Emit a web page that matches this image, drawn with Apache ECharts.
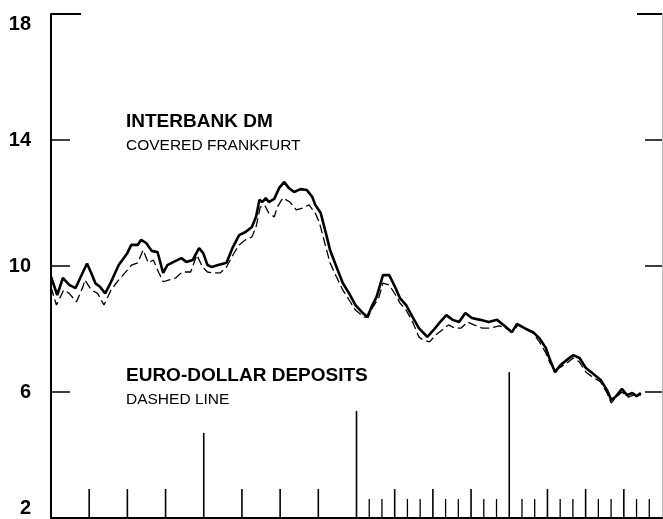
<!DOCTYPE html>
<html>
<head>
<meta charset="utf-8">
<script src="https://cdn.jsdelivr.net/npm/echarts@6/dist/echarts.min.js"></script>
<style>
	html, body { margin: 0; padding: 0; background: #fff; }
	#chart { width: 663px; height: 519px; }
</style>
</head>
<body>
<div id="chart"></div>
<script>
	'use strict'

	// x in months from the start of the first year (4 years = 48 months), y in percent
	var interbankDM = [
		[0,9.66],[0.49,9.08],[0.93,9.62],[1.43,9.40],[1.93,9.30],[2.33,9.65],[2.83,10.08],[3.16,9.78],
		[3.49,9.45],[3.83,9.35],[4.26,9.13],[4.72,9.50],[5.32,10.03],[5.98,10.40],[6.31,10.67],[6.81,10.67],
		[7.08,10.83],[7.48,10.73],[7.91,10.48],[8.37,10.44],[8.81,9.78],[9.14,10.03],[9.64,10.13],[10.24,10.25],
		[10.63,10.13],[11.13,10.19],[11.63,10.57],[11.96,10.41],[12.29,10.03],[12.62,9.97],[13.13,10.03],[13.79,10.10],
		[14.29,10.60],[14.78,10.98],[15.28,11.08],[15.78,11.24],[16.11,11.56],[16.38,12.10],[16.61,12.03],[16.87,12.16],
		[17.11,12.03],[17.54,12.13],[17.93,12.48],[18.33,12.67],[18.67,12.48],[19.10,12.35],[19.60,12.44],[20.10,12.41],
		[20.53,12.19],[20.76,11.94],[21.19,11.68],[21.59,11.05],[21.92,10.51],[22.43,9.97],[22.92,9.46],[23.42,9.13],
		[23.92,8.76],[24.41,8.54],[24.85,8.38],[25.18,8.70],[25.58,9.02],[26.08,9.71],[26.57,9.71],[27.07,9.30],
		[27.41,8.98],[27.90,8.76],[28.41,8.38],[28.90,8.03],[29.56,7.75],[30.06,7.97],[30.56,8.22],[31.06,8.44],
		[31.56,8.29],[32.06,8.22],[32.55,8.51],[33.06,8.35],[33.72,8.29],[34.38,8.22],[35.04,8.29],[35.55,8.13],
		[36.21,7.90],[36.61,8.16],[37.20,8.03],[37.87,7.90],[38.37,7.71],[38.87,7.40],[39.20,7.02],[39.60,6.63],
		[40.03,6.86],[40.53,7.02],[41.03,7.17],[41.52,7.08],[42.02,6.76],[42.52,6.60],[43.18,6.38],[43.68,6.06],
		[44.01,5.75],[44.34,5.84],[44.85,6.10],[45.25,5.90],[45.67,5.97],[46.01,5.87],[46.34,5.97]
	];
	var euroDollar = [
		[0,9.33],[0.43,8.76],[1.00,9.24],[1.43,9.13],[2.00,8.86],[2.50,9.33],[2.66,9.56],[3.16,9.24],
		[3.66,9.13],[4.16,8.76],[4.72,9.24],[5.32,9.56],[5.81,9.78],[6.32,10.03],[6.81,10.10],[7.24,10.51],
		[7.64,10.10],[8.04,10.19],[8.48,9.78],[8.81,9.50],[9.30,9.56],[9.80,9.62],[10.30,9.81],[10.97,9.81],
		[11.46,10.35],[11.89,9.97],[12.29,9.81],[12.79,9.78],[13.29,9.78],[13.79,9.97],[14.29,10.35],[14.78,10.67],
		[15.28,10.83],[15.78,10.92],[16.11,11.24],[16.44,11.87],[16.78,11.94],[17.11,11.68],[17.54,11.56],[17.78,11.87],
		[18.21,12.16],[18.77,12.03],[19.27,11.78],[19.76,11.84],[20.27,11.94],[20.76,11.68],[21.09,11.37],[21.59,10.60],
		[21.92,10.10],[22.43,9.65],[22.92,9.24],[23.42,8.92],[23.92,8.60],[24.58,8.38],[24.92,8.38],[25.25,8.67],
		[25.74,8.98],[26.08,9.46],[26.57,9.40],[27.07,9.08],[27.41,8.83],[27.90,8.60],[28.41,8.22],[28.90,7.75],
		[29.23,7.65],[29.73,7.59],[30.23,7.81],[30.73,7.97],[31.23,8.13],[31.72,8.03],[32.22,8.03],[32.72,8.22],
		[33.22,8.13],[33.88,8.03],[34.55,8.03],[35.22,8.10],[35.71,8.03],[36.21,7.90],[36.71,8.13],[37.37,7.97],
		[37.87,7.87],[38.37,7.59],[38.87,7.24],[39.20,6.92],[39.60,6.70],[40.03,6.79],[40.53,6.92],[41.03,7.08],
		[41.52,6.95],[42.02,6.63],[42.52,6.48],[43.18,6.32],[43.68,5.97],[44.01,5.65],[44.34,5.81],[44.85,6.00],
		[45.34,5.84],[45.77,5.90],[46.34,5.90]
	];

	// bottom scale marks (month positions)
	var monthTicks = [25,26,28,29,31,32,34,35,37,38,40,41,43,44,46,47];
	var quarterTicks = [3,6,9,15,18,21,27,30,33,39,42,45];
	var yearTicks = [12,24,36];
	var yearTickTops = [4.7,5.4,6.63];

	var yTicks = [2,6,10,14,18];

	// [month, kind, top value] ; kind 0 = month, 1 = quarter, 2 = year
	var tickData = [];
	monthTicks.forEach(function (m) { tickData.push([m, 0, 0]); });
	quarterTicks.forEach(function (m) { tickData.push([m, 1, 0]); });
	yearTicks.forEach(function (m, i) { tickData.push([m, 2, yearTickTops[i]]); });

	var chart = echarts.init(document.getElementById('chart'));

	var yBase = {
		type: 'value',
		min: yTicks[0],
		max: yTicks[yTicks.length - 1],
		splitLine: { show: false }
	};

	var option = {
		animation: false,
		grid: { left: 51, right: 1, top: 14, bottom: 1 },
		xAxis: {
			type: 'value',
			min: 0,
			max: 48,
			axisLine: { lineStyle: { color: '#000', width: 2 } },
			axisTick: { show: false },
			axisLabel: { show: false },
			splitLine: { show: false }
		},
		yAxis: [
			Object.assign({}, yBase, {
				position: 'left',
				interval: 4,
				axisLine: { show: true, lineStyle: { color: '#000', width: 2 } },
				axisTick: { show: true, inside: true, length: 19, lineStyle: { color: '#000', width: 1.5 } },
				axisLabel: {
					color: '#000',
					fontFamily: 'Liberation Sans',
					fontWeight: 'bold',
					fontSize: 20,
					margin: 20,
					verticalAlignMaxLabel: 'top',
					verticalAlignMinLabel: 'bottom'
				}
			}),
			Object.assign({}, yBase, {
				position: 'left',
				interval: 16,
				axisLine: { show: false },
				axisTick: { show: true, inside: true, length: 30, lineStyle: { color: '#000', width: 2 } },
				axisLabel: { show: false }
			}),
			Object.assign({}, yBase, {
				position: 'right',
				interval: 4,
				axisLine: { show: true, lineStyle: { color: '#bbb', width: 1 } },
				axisTick: { show: true, inside: true, length: 17, lineStyle: { color: '#000', width: 1.5 } },
				axisLabel: { show: false }
			}),
			Object.assign({}, yBase, {
				position: 'right',
				interval: 16,
				axisLine: { show: false },
				axisTick: { show: true, inside: true, length: 25, lineStyle: { color: '#000', width: 2 } },
				axisLabel: { show: false }
			})
		],
		series: [
			{
				name: 'Interbank DM covered Frankfurt',
				type: 'line',
				data: interbankDM,
				symbol: 'none',
				lineStyle: { color: '#000', width: 2.6 },
				z: 3
			},
			{
				name: 'Euro-dollar deposits',
				type: 'line',
				data: euroDollar,
				symbol: 'none',
				lineStyle: { color: '#000', width: 1.3, type: [9, 4] },
				z: 2
			},
			{
				name: 'scale',
				type: 'custom',
				data: tickData,
				dimensions: ['month', 'kind', 'top'],
				encode: { x: 0, y: 2 },
				renderItem: function (params, api) {
					var kind = api.value(1);
					var base = api.coord([api.value(0), yTicks[0]]);
					var topY;
					if (kind === 2) {
						topY = api.coord([api.value(0), api.value(2)])[1];
					} else {
						topY = base[1] - (kind === 1 ? 29 : 19);
					}
					return {
						type: 'line',
						shape: { x1: base[0], y1: base[1], x2: base[0], y2: topY },
						style: { stroke: '#000', lineWidth: kind === 0 ? 1.3 : 1.6 }
					};
				},
				z: 1
			}
		],
		graphic: [
			{ type: 'text', left: 126, top: 112, style: { text: 'INTERBANK DM', font: 'bold 19px "Liberation Sans"', fill: '#000' } },
			{ type: 'text', left: 126, top: 138, style: { text: 'COVERED FRANKFURT', font: '15.5px "Liberation Sans"', fill: '#000' } },
			{ type: 'text', left: 126, top: 366, style: { text: 'EURO-DOLLAR DEPOSITS', font: 'bold 19px "Liberation Sans"', fill: '#000' } },
			{ type: 'text', left: 126, top: 392, style: { text: 'DASHED LINE', font: '15.5px "Liberation Sans"', fill: '#000' } }
		]
	};

	chart.setOption(option);
</script>
</body>
</html>
